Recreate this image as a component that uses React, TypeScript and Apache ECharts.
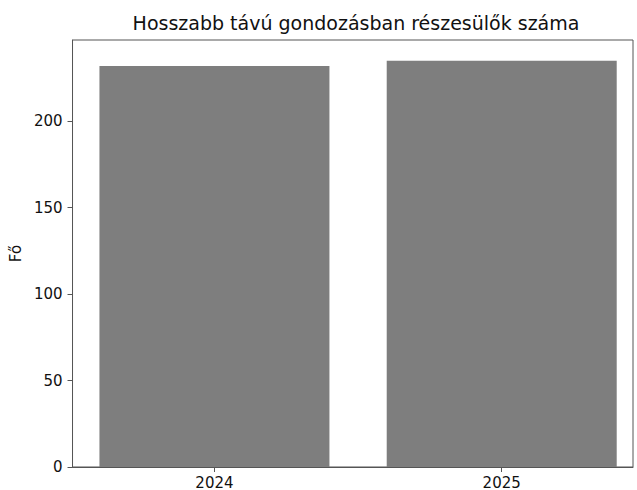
import React, { useEffect, useRef } from "react";
import * as echarts from "echarts";

const title = "Hosszabb távú gondozásban részesülők száma";
const yAxisName = "Fő";
const categories = ["2024", "2025"];
const values = [232, 235];
const yTicks = [0, 50, 100, 150, 200];

export default function App() {
  const ref = useRef<HTMLDivElement>(null);
  useEffect(() => {
    if (!ref.current) return;
    const chart = echarts.init(ref.current, null, { renderer: "svg" });
    const font = "DejaVu Sans";
    const catIdx = categories.map((_, i) => i);
    chart.setOption({
      animation: false,
      backgroundColor: "#ffffff",
      title: {
        text: title,
        left: 351,
        top: 8,
        textAlign: "center",
        textStyle: { fontFamily: font, fontSize: 19, fontWeight: "normal", color: "#111" },
      },
      grid: {
        left: 72,
        right: 4,
        top: 40,
        bottom: 23,
        show: true,
        borderColor: "#555",
        borderWidth: 1,
        backgroundColor: "transparent",
      },
      xAxis: {
        type: "value",
        min: -0.494,
        max: 1.457,
        splitLine: { show: false },
        axisLine: { show: true, onZero: false, lineStyle: { color: "#555", width: 1 } },
        axisTick: { show: true, length: 5, customValues: catIdx, lineStyle: { color: "#555" } },
        axisLabel: {
          customValues: catIdx,
          formatter: (v: number) => categories[Math.round(v)] ?? "",
          fontFamily: font,
          fontSize: 15,
          color: "#111",
          margin: 8,
        },
      },
      yAxis: {
        type: "value",
        min: 0,
        max: 247,
        name: yAxisName,
        nameLocation: "middle",
        nameGap: 46,
        nameTextStyle: { fontFamily: font, fontSize: 15, color: "#111" },
        splitLine: { show: false },
        axisLine: { show: true, onZero: false, lineStyle: { color: "#555", width: 1 } },
        axisTick: { show: true, length: 5, customValues: yTicks, lineStyle: { color: "#555" } },
        axisLabel: {
          customValues: yTicks,
          fontFamily: font,
          fontSize: 15,
          color: "#111",
          margin: 10,
        },
      },
      series: [
        {
          type: "bar",
          data: values.map((v, i) => [i, v]),
          barWidth: 230,
          itemStyle: { color: "#7e7e7e" },
        },
      ],
    });
    return () => chart.dispose();
  }, []);
  return <div ref={ref} style={{ width: 637, height: 490, position: "absolute", left: 0, top: 0 }} />;
}
